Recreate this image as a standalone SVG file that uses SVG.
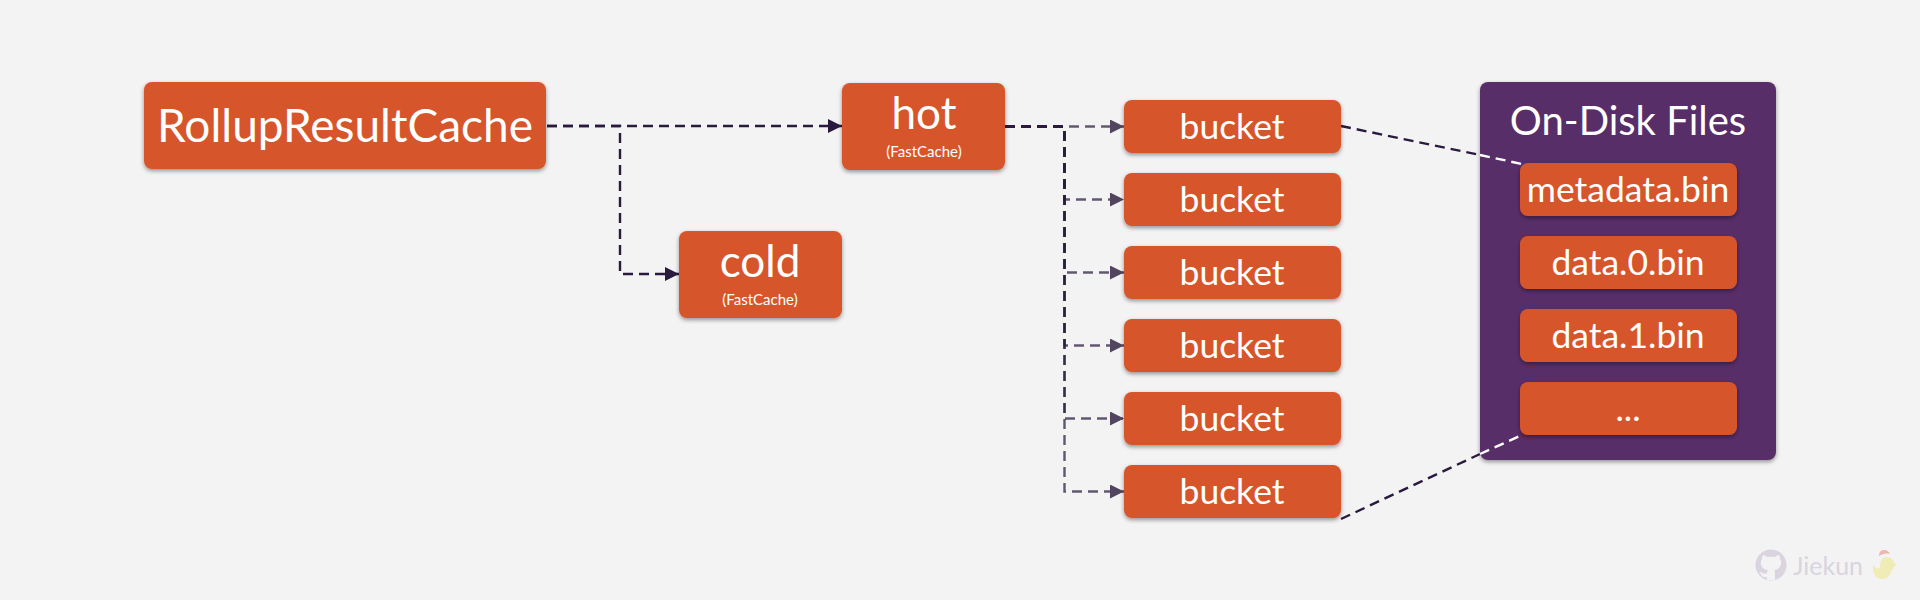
<svg xmlns="http://www.w3.org/2000/svg" width="1920" height="600" viewBox="0 0 1920 600">
<style>
text{font-family:Lato,"Open Sans",sans-serif;fill:#fff;text-anchor:middle}
.n{fill:#d7552a;filter:url(#s)}
.c{fill:none;stroke:#2a1a3e;stroke-width:2.400;stroke-dasharray:10 6}
.b{stroke-opacity:.72}
.w{stroke:#fff}
.t{font-size:35.500px}
.f{font-size:15px}
</style>
<defs>
<filter id="s" x="-10%" y="-15%" width="120%" height="140%"><feDropShadow dx="0" dy="2" stdDeviation="2" flood-color="#000" flood-opacity=".4"/></filter>
<marker id="a" markerUnits="userSpaceOnUse" markerWidth="14" markerHeight="14" refX="14" refY="7" orient="auto"><path d="M0 0L14 7L0 14Z" fill="#2a1a3e"/></marker>
<marker id="m" markerUnits="userSpaceOnUse" markerWidth="14" markerHeight="14" refX="14" refY="7" orient="auto"><path d="M0 0L14 7L0 14Z" fill="#524560"/></marker>
</defs>
<rect width="1920" height="600" fill="#f3f3f3"/>
<g id="files-panel"><rect x="1480" y="82" width="296" height="378" rx="8" fill="#592f69" filter="url(#s)"/><text x="1628" y="135" font-size="40">On-Disk Files</text></g>
<g id="connectors">
<path class="c" marker-end="url(#a)" d="M547 126H842"/>
<path class="c" marker-end="url(#a)" d="M547 126H620V274H679"/>
<path class="c b" marker-end="url(#m)" d="M1005 126.500H1124"/>
<path class="c b" marker-end="url(#m)" d="M1005 126.500H1064.500V199.500H1124"/>
<path class="c b" marker-end="url(#m)" d="M1005 126.500H1064.500V272.500H1124"/>
<path class="c b" marker-end="url(#m)" d="M1005 126.500H1064.500V345.500H1124"/>
<path class="c b" marker-end="url(#m)" d="M1005 126.500H1064.500V418.500H1124"/>
<path class="c b" marker-end="url(#m)" d="M1005 126.500H1064.500V491.500H1124"/>
<path class="c" d="M1341 126L1480 155"/>
<path class="c w" d="M1480 155L1522 164"/>
<path class="c" d="M1341 519L1480 454"/>
<path class="c w" d="M1480 454L1522 435"/>
</g>
<g id="root"><rect class="n" x="144" y="82" width="402" height="87" rx="8"/><text x="345" y="142" font-size="46">RollupResultCache</text></g>
<g id="hot"><rect class="n" x="842" y="83" width="163" height="87" rx="8"/><text x="924" y="129" font-size="44">hot</text><text class="f" x="924" y="157">(FastCache)</text></g>
<g id="cold"><rect class="n" x="679" y="231" width="163" height="87" rx="8"/><text x="760" y="277" font-size="44">cold</text><text class="f" x="760" y="305">(FastCache)</text></g>
<g id="bucket1"><rect class="n" x="1124" y="100" width="217" height="53" rx="8"/><text class="t" x="1232" y="139">bucket</text></g>
<g id="bucket2"><rect class="n" x="1124" y="173" width="217" height="53" rx="8"/><text class="t" x="1232" y="212">bucket</text></g>
<g id="bucket3"><rect class="n" x="1124" y="246" width="217" height="53" rx="8"/><text class="t" x="1232" y="285">bucket</text></g>
<g id="bucket4"><rect class="n" x="1124" y="319" width="217" height="53" rx="8"/><text class="t" x="1232" y="358">bucket</text></g>
<g id="bucket5"><rect class="n" x="1124" y="392" width="217" height="53" rx="8"/><text class="t" x="1232" y="431">bucket</text></g>
<g id="bucket6"><rect class="n" x="1124" y="465" width="217" height="53" rx="8"/><text class="t" x="1232" y="504">bucket</text></g>
<g id="file-metadata"><rect class="n" x="1520" y="163" width="217" height="53" rx="8"/><text class="t" x="1628" y="202">metadata.bin</text></g>
<g id="file-data0"><rect class="n" x="1520" y="236" width="217" height="53" rx="8"/><text class="t" x="1628" y="275">data.0.bin</text></g>
<g id="file-data1"><rect class="n" x="1520" y="309" width="217" height="53" rx="8"/><text class="t" x="1628" y="348">data.1.bin</text></g>
<g id="file-more"><rect class="n" x="1520" y="382" width="217" height="53" rx="8"/><text class="t" x="1628" y="421">...</text></g>
<g id="watermark">
<circle cx="1771" cy="565" r="15.5" fill="#d9d4df"/>
<path d="M1762 559c0-2 .3-3 1-4 2 0 3 1 4 2 2.500-.5 5.500-.5 8 0 1-1 2-2 4-2 .7 1 1 2 1 4 1.500 2 2 6-1 9-1 1-3 2-5 2 1 1 1 2 1 4v6h-8v-3c-3 .5-5 0-6-3l-2-2h2c1 1 2 2 6 1.500 0-1 .2-2 1-3.500-2 0-4-1-5-2-3-3-2.500-7-1-9z" fill="#f3f3f3"/>
<text x="1828" y="575" font-size="25" style="fill:#d9d4df">Jiekun</text>
<path d="M1873 565c2 3 5 4 7 3 0-3 0-11 7-11 4 0 7 3 7 6l3 1-3 3c-1 2-2 3-3 4 0 4-3 8-9 8-6 0-10-5-9-14z" fill="#f0ecb5"/>
<path d="M1879 556c0-4 2-6 5-6 3 0 5 2 6 4-4-1-8 0-11 2z" fill="#efb6b0"/>
</g>
</svg>
